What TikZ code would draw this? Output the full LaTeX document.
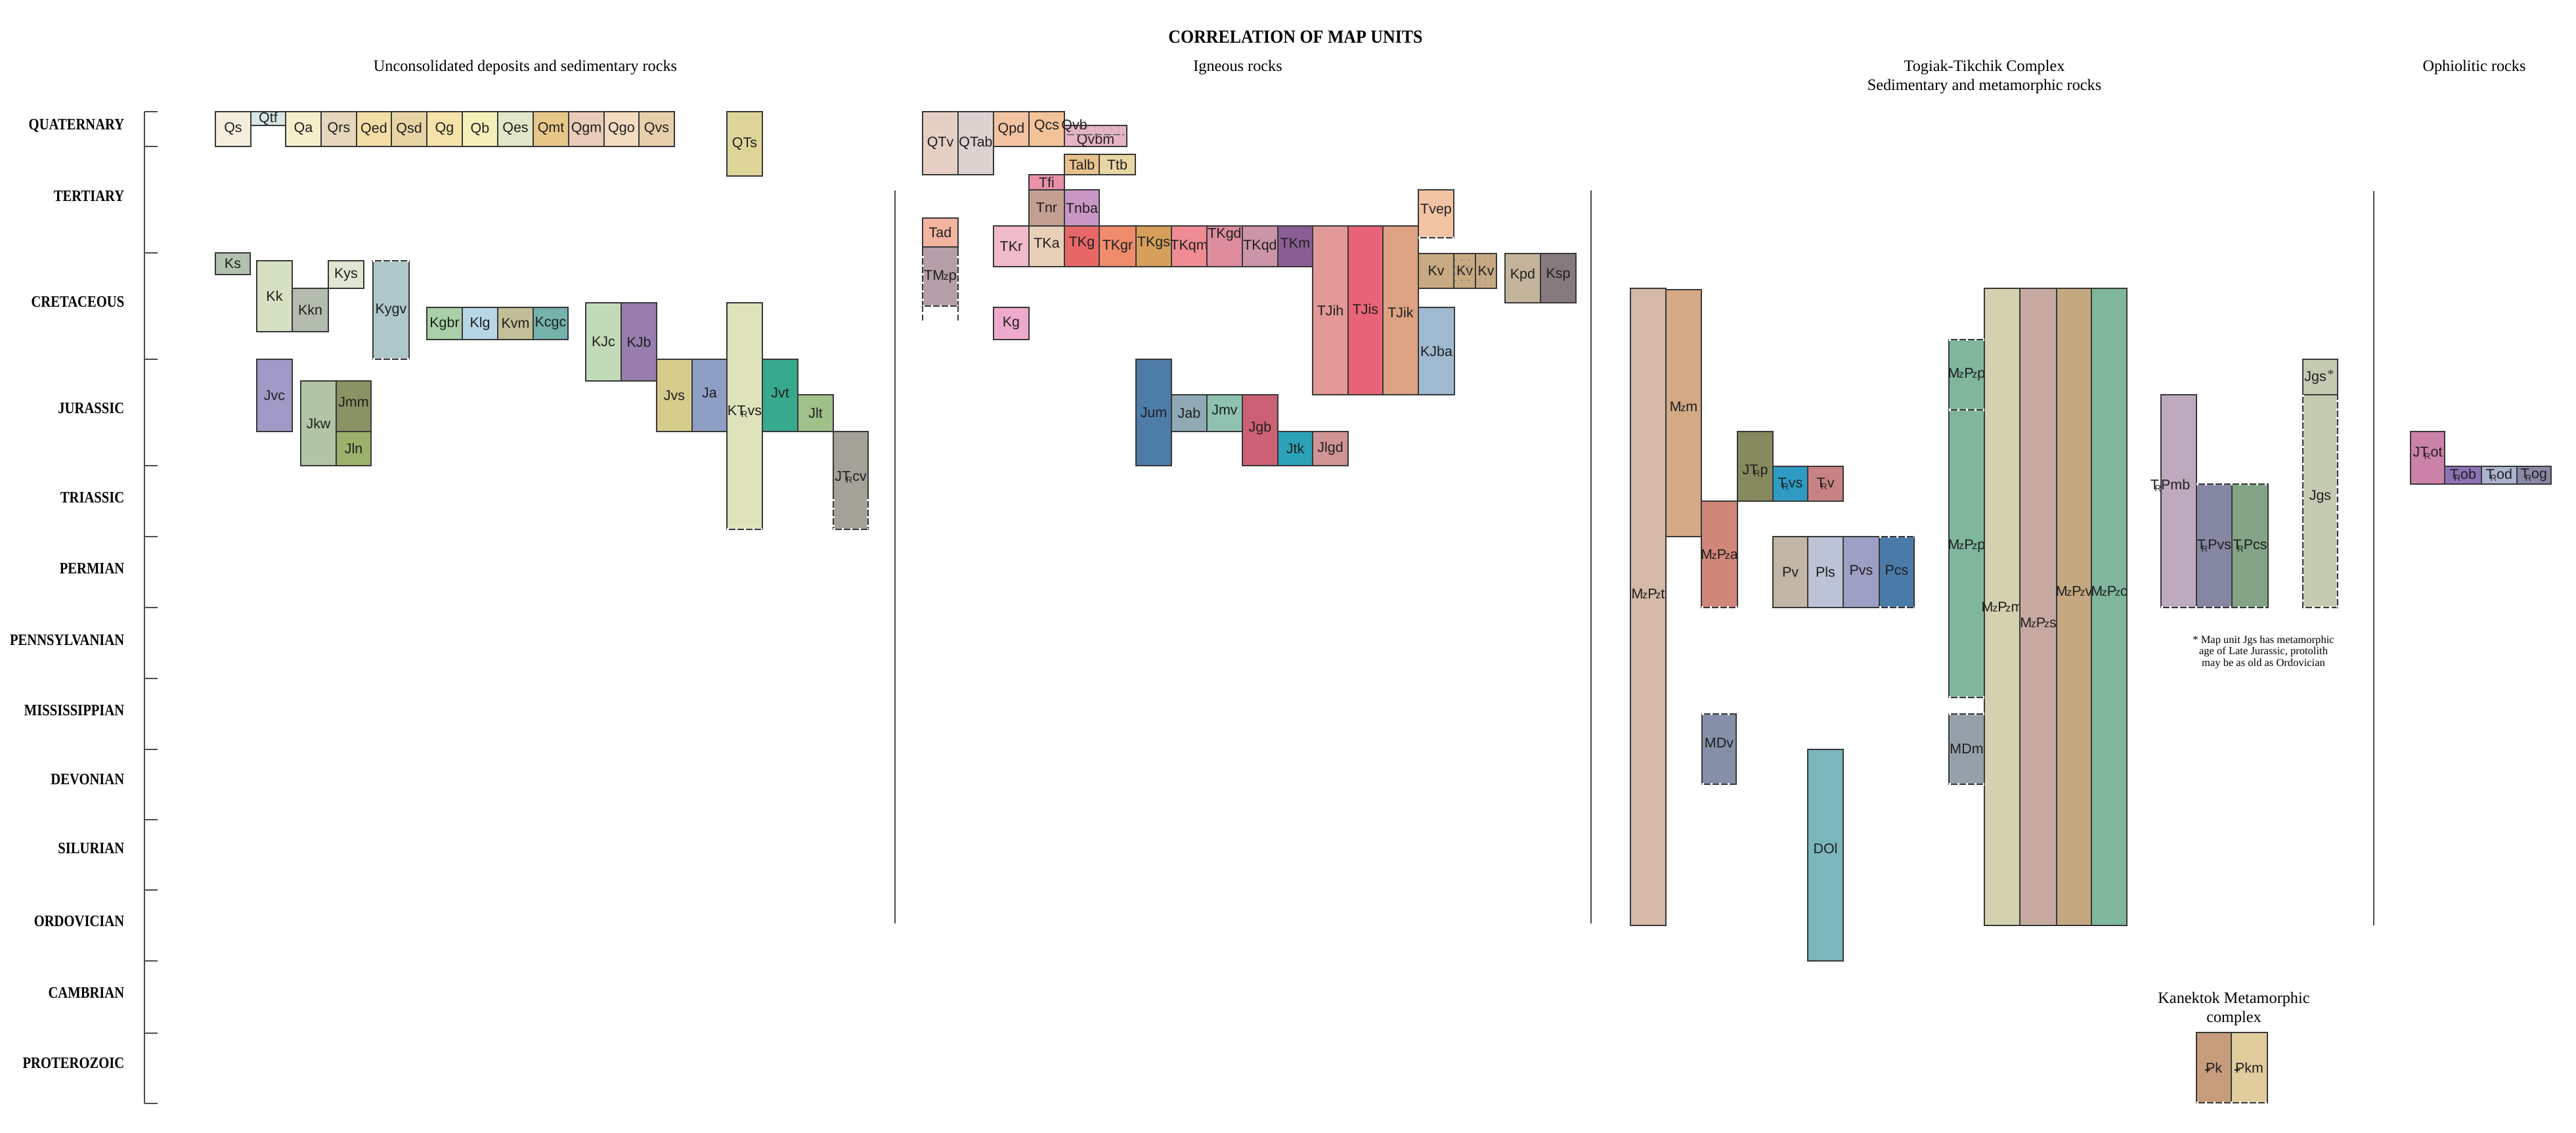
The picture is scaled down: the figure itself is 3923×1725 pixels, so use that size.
\documentclass[tikz,border=0pt]{standalone}
\usepackage{fontspec}
\setmainfont{Liberation Serif}
\setsansfont{Liberation Sans}
\usepackage{graphicx}
\usetikzlibrary{calc,patterns}

% age symbols
\newcommand{\Tr}{T\kern-.3em\raisebox{-.3ex}{\scalebox{.62}{R}}}
\newcommand{\Mz}{M\kern-.06em\scalebox{.75}{z}}
\newcommand{\Pz}{P\kern-.1em\scalebox{.75}{z}}
\newcommand{\Pe}{\makebox[0pt][l]{\kern-.06em\rule[.3ex]{.4em}{.07em}}P}

% one map unit: [label options]{name}{corner}{corner}{HTML colour}{label}
\newcommand{\mapunit}[6][]{%
  \definecolor{unitfill}{HTML}{#5}%
  \draw[unitbox, fill=unitfill] (#3) rectangle (#4);
  \node[unitlbl, #1] (#2) at ($(#3)!.5!(#4)$) {#6};}

\begin{document}
\begin{tikzpicture}[x=0.01cm, y=-0.01cm,
  unitbox/.style={draw=black!78, line width=0.55pt},
  unitlbl/.style={font=\sffamily\fontsize{6.1}{6.5}\selectfont, text=black!88, inner sep=0pt},
  gap/.style={white, line width=0.9pt, dash pattern=on 0.9pt off 2.8pt},
  axis/.style={draw=black!70, line width=0.6pt},
  period/.style={font=\bfseries\fontsize{6.9}{7}\selectfont, anchor=east, inner sep=0pt},
  heading/.style={font=\fontsize{6.9}{8.1}\selectfont, align=center, inner sep=0pt}
]
\useasboundingbox (0,0) rectangle (3923,1725);

% headings
\node[heading, font=\bfseries\fontsize{8}{9}\selectfont] (title) at (1973,56)
  {\scalebox{.92}[1]{CORRELATION OF MAP UNITS}};
\node[heading] (hsed) at (800,103) {Unconsolidated deposits and sedimentary rocks};
\node[heading] (hign) at (1885,103) {Igneous rocks};
\node[heading] (htog) at (3022,117) {Togiak-Tikchik Complex\\Sedimentary and metamorphic rocks};
\node[heading] (hoph) at (3768,103) {Ophiolitic rocks};

% time scale
\draw[axis] (220,170) -- (220,1680);
\foreach \t in {170,223,385,547,709,817,925,1033,1141,1248,1355,1463,1573,1680}
  \draw[axis] (220,\t) -- (240,\t);
\foreach \name/\y [count=\i] in {QUATERNARY/191, TERTIARY/298, CRETACEOUS/460,
    JURASSIC/622, TRIASSIC/758, PERMIAN/865, PENNSYLVANIAN/975, MISSISSIPPIAN/1082,
    DEVONIAN/1187, SILURIAN/1292, ORDOVICIAN/1403, CAMBRIAN/1512, PROTEROZOIC/1619}
  \node[period] (per\i) at (190,\y) {\scalebox{.85}[1]{\name}};

% column dividers
\draw[axis] (1363,290) -- (1363,1406);
\draw[axis] (2423,290) -- (2423,1406);
\draw[axis] (3615,291) -- (3615,1409);

% unconsolidated deposits and sedimentary rocks
\mapunit{qs}{328,170}{382,223}{F3EFDC}{Qs}
\mapunit{qtf}{382,170}{435,191}{D8E6E6}{Qtf}
\mapunit{qa}{435,170}{489,223}{F5EECB}{Qa}
\mapunit{qrs}{489,170}{543,223}{E6D6BC}{Qrs}
\mapunit{qed}{543,170}{596,223}{F3DFA5}{Qed}
\mapunit{qsd}{596,170}{650,223}{E8D4A4}{Qsd}
\mapunit{qg}{650,170}{704,223}{F5E2A8}{Qg}
\mapunit{qb}{704,170}{758,223}{F5EFBA}{Qb}
\mapunit{qes}{758,170}{812,223}{E3E7C9}{Qes}
\mapunit{qmt}{812,170}{866,223}{E8C888}{Qmt}
\mapunit{qgm}{866,170}{920,223}{E8CBB8}{Qgm}
\mapunit{qgo}{920,170}{973,223}{F3DCC0}{Qgo}
\mapunit{qvs}{973,170}{1027,223}{E8CFAC}{Qvs}
\mapunit{qts}{1107,170}{1161,268}{DED598}{QTs}
\mapunit{ks}{328,385}{381,418}{B1C2AE}{Ks}
\mapunit{kk}{391,397}{445,505}{D6E1C4}{Kk}
\mapunit{kkn}{445,439}{500,505}{B3BCAF}{Kkn}
\mapunit{kys}{500,397}{554,439}{DFE6D2}{Kys}
\mapunit{kygv}{568,397}{623,547}{AEC7C8}{Kygv}
\mapunit{kgbr}{650,468}{704,517}{A9D0A8}{Kgbr}
\mapunit{klg}{704,468}{758,517}{B7D6E6}{Klg}
\mapunit{kvm}{758,468}{812,517}{C2BE97}{Kvm}
\mapunit{kcgc}{812,468}{865,517}{74B2AB}{Kcgc}
\mapunit{kjc}{892,461}{946,580}{C2DAB8}{KJc}
\mapunit{kjb}{946,461}{1000,580}{977EAE}{KJb}
\mapunit{jvs}{1000,547}{1054,657}{D6CC8B}{Jvs}
\mapunit[yshift=0.04cm]{ja}{1054,547}{1107,657}{8F9EC4}{Ja}
\mapunit[yshift=0.07cm]{ktrvs}{1107,461}{1161,806}{DFE3BB}{K\Tr vs}
\mapunit[yshift=0.04cm]{jvt}{1161,547}{1215,657}{37A98D}{Jvt}
\mapunit{jlt}{1215,601}{1269,657}{A0C18A}{Jlt}
\mapunit[yshift=0.05cm]{jtrcv}{1269,657}{1322,806}{A4A199}{J\Tr cv}
\mapunit{jvc}{391,547}{445,657}{A199C6}{Jvc}
\mapunit{jkw}{458,580}{512,709}{B1C4A5}{Jkw}
\mapunit[yshift=0.06cm]{jmm}{512,580}{565,657}{8A9364}{Jmm}
\mapunit{jln}{512,657}{565,709}{9BB16C}{Jln}

% igneous rocks
\mapunit{qtv}{1405,170}{1459,266}{E6D0C5}{QTv}
\mapunit{qtab}{1459,170}{1513,266}{DCD2CF}{QTab}
\mapunit{qpd}{1513,170}{1567,223}{F3C3A2}{Qpd}
\mapunit[yshift=0.04cm]{qcs}{1567,170}{1621,223}{F3C398}{Qcs}
\mapunit[yshift=-0.07cm]{qvbm}{1621,191}{1716,223}{E6B5C5}{Qvbm}
\foreach \x in {1632,1644,...,1710}
  \draw[black!40, densely dotted] (\x,194) -- (\x,202);
\draw[black!55, dash pattern=on 3pt off 1pt] (1625,205) -- (1712,205);
\node[unitlbl] (qvb) at (1636,192) {Qvb};
\mapunit{talb}{1621,235}{1674,266}{E8C28E}{Talb}
\mapunit{ttb}{1674,235}{1729,266}{E8D6A3}{Ttb}
\mapunit{tfi}{1567,266}{1621,289}{E891A8}{Tfi}
\mapunit{tnr}{1567,289}{1621,344}{C4A093}{Tnr}
\mapunit{tnba}{1621,289}{1674,344}{C997C4}{Tnba}
\mapunit{tkr}{1513,344}{1567,406}{F0BAC8}{TKr}
\mapunit[yshift=0.05cm]{tka}{1567,344}{1621,406}{E8D0B8}{TKa}
\mapunit[yshift=0.05cm]{tkg}{1621,344}{1674,406}{E86868}{TKg}
\mapunit{tkgr}{1674,344}{1730,406}{EF8C6C}{TKgr}
\mapunit[yshift=0.05cm]{tkgs}{1730,344}{1784,406}{D6A05C}{TKgs}
\mapunit{tkqm}{1784,344}{1838,406}{EF8C94}{TKqm}
\mapunit[yshift=0.18cm]{tkgd}{1838,344}{1892,406}{DC8C9C}{TKgd}
\mapunit{tkqd}{1892,344}{1946,406}{CC94A8}{TKqd}
\mapunit[yshift=0.05cm]{tkm}{1946,344}{1999,406}{8A5E94}{TKm}
\mapunit{tjih}{1999,344}{2053,601}{E39898}{TJih}
\mapunit[yshift=0.02cm]{tjis}{2053,344}{2106,601}{E86478}{TJis}
\mapunit[yshift=-0.03cm]{tjik}{2106,344}{2160,601}{DCA282}{TJik}
\mapunit[yshift=0.05cm]{tvep}{2160,289}{2214,362}{F3C4A4}{Tvep}
\mapunit{kva}{2160,386}{2214,439}{C8AA82}{Kv}
\mapunit{kvb}{2214,386}{2247,439}{C8AA82}{Kv}
\mapunit{kvc}{2247,386}{2279,439}{C8AA82}{Kv}
\fill[pattern=dots, pattern color=black!45] (2215,388) rectangle (2246,437);
\foreach \x in {2254,2262,2270}
  \draw[black!40, densely dotted] (\x,389) -- (\x,436);
\mapunit[yshift=0.05cm]{kpd}{2292,386}{2346,461}{C4B49C}{Kpd}
\mapunit[yshift=0.05cm]{ksp}{2346,386}{2400,461}{877A7E}{Ksp}
\mapunit{kjba}{2160,468}{2215,601}{9FBAD0}{KJba}
\mapunit{tad}{1405,332}{1459,376}{F3B4A0}{Tad}
\mapunit{tmzp}{1405,376}{1459,466}{B49EA8}{T\Mz p}
\mapunit{kg}{1513,468}{1567,517}{EEAACC}{Kg}
\mapunit{jum}{1730,547}{1784,709}{4E7CA8}{Jum}
\mapunit{jab}{1784,601}{1838,657}{8FAAB4}{Jab}
\mapunit[yshift=0.05cm]{jmv}{1838,601}{1892,657}{8EC1B0}{Jmv}
\mapunit[yshift=0.03cm]{jgb}{1892,601}{1946,709}{CC6074}{Jgb}
\mapunit{jtk}{1946,657}{1999,709}{2BA2B8}{Jtk}
\mapunit{jlgd}{1999,657}{2053,709}{D09494}{Jlgd}

% Togiak-Tikchik Complex
\mapunit[yshift=0.2cm]{mzpzt}{2483,439}{2537,1409}{D4B9A6}{\Mz\Pz t}
\mapunit[yshift=0.1cm]{mzm}{2537,441}{2591,817}{D3A986}{\Mz m}
\mapunit{mzpza}{2591,763}{2646,925}{D0877A}{\Mz\Pz a}
\mapunit[yshift=-0.07cm]{jtrp}{2646,657}{2700,763}{87895E}{J\Tr p}
\mapunit{trvs}{2700,710}{2753,763}{2E9BC4}{\Tr vs}
\mapunit{trv}{2753,710}{2807,763}{C98283}{\Tr v}
\mapunit{pv}{2700,817}{2753,925}{C3B6A6}{Pv}
\mapunit{pls}{2753,817}{2807,925}{BCC3D6}{Pls}
\mapunit[yshift=0.03cm]{pvs}{2807,817}{2862,925}{9E9FC4}{Pvs}
\mapunit[yshift=0.03cm]{pcs}{2862,817}{2915,925}{4A7AA8}{Pcs}
\mapunit[yshift=0.09cm]{mdv}{2592,1087}{2644,1194}{8590A8}{MDv}
\mapunit[yshift=0.1cm]{dol}{2753,1141}{2807,1463}{7BB6BC}{DOl}
\mapunit{mzpzpa}{2968,517}{3022,624}{7FB69C}{\Mz\Pz p}
\mapunit[yshift=0.12cm]{mzpzpb}{2968,624}{3022,1062}{7FB69C}{\Mz\Pz p}
\mapunit{mzpzm}{3022,439}{3076,1409}{D4D1B0}{\Mz\Pz m}
\mapunit[yshift=-0.24cm]{mzpzs}{3076,439}{3132,1409}{C6AAA2}{\Mz\Pz s}
\mapunit[yshift=0.24cm]{mzpzv}{3132,439}{3185,1409}{C4A880}{\Mz\Pz v}
\mapunit[yshift=0.24cm]{mzpzc}{3185,439}{3239,1409}{7FB69C}{\Mz\Pz c}
\mapunit{mdm}{2968,1087}{3022,1194}{95A0AA}{MDm}
\mapunit[yshift=0.24cm, xshift=-0.13cm]{trpmb}{3291,601}{3345,925}{BEAABE}{\Tr Pmb}
\mapunit{trpvs}{3345,737}{3399,925}{8587A2}{\Tr Pvs}
\mapunit{trpcs}{3399,737}{3454,925}{83A486}{\Tr Pcs}
\mapunit{jgsa}{3507,547}{3560,601}{C4CBB0}{Jgs$^*$}
\mapunit[yshift=0.07cm]{jgs}{3507,601}{3560,925}{C4CBB0}{Jgs}
\node[heading, font=\fontsize{4.7}{5.1}\selectfont] (note) at (3447,993)
  {* Map unit Jgs has metamorphic\\age of Late Jurassic, protolith\\may be as old as Ordovician};
\node[heading] (hkan) at (3402,1536) {Kanektok Metamorphic\\complex};
\mapunit{pk}{3345,1572}{3398,1679}{C69C7C}{\Pe k}
\mapunit{pkm}{3398,1572}{3453,1679}{E1CC9E}{\Pe km}

% ophiolitic rocks
\mapunit[yshift=0.07cm]{jtrot}{3671,657}{3723,737}{CC82A8}{J\Tr ot}
\mapunit{trob}{3723,710}{3779,737}{8E72B4}{\Tr ob}
\mapunit{trod}{3779,710}{3833,737}{AAB4D0}{\Tr od}
\mapunit{trog}{3833,710}{3885,737}{8A88A6}{\Tr og}

% uncertain boundaries
\draw[gap] (568,397) -- (623,397);
\draw[gap] (568,547) -- (623,547);
\draw[gap] (1107,806) -- (1161,806);
\draw[gap] (1269,806) -- (1322,806);
\draw[gap] (1269,760) -- (1269,806);
\draw[gap] (1322,760) -- (1322,806);
\draw[gap] (1405,390) -- (1405,466);
\draw[gap] (1459,390) -- (1459,466);
\draw[gap] (1405,466) -- (1459,466);
\draw[unitbox, dash pattern=on 2.6pt off 1pt] (1405,466) -- (1405,490);
\draw[unitbox, dash pattern=on 2.6pt off 1pt] (1459,466) -- (1459,490);
\draw[gap] (2160,362) -- (2214,362);
\draw[gap] (2591,925) -- (2646,925);
\draw[gap] (2862,817) -- (2915,817);
\draw[gap] (2862,925) -- (2915,925);
\draw[gap] (2592,1087) -- (2644,1087);
\draw[gap] (2592,1194) -- (2644,1194);
\draw[gap] (2968,517) -- (3022,517);
\draw[gap] (2968,624) -- (3022,624);
\draw[gap] (2968,1062) -- (3022,1062);
\draw[gap] (2968,1087) -- (3022,1087);
\draw[gap] (2968,1194) -- (3022,1194);
\draw[gap] (3345,737) -- (3454,737);
\draw[gap] (3291,925) -- (3454,925);
\draw[gap] (3507,601) -- (3507,925) -- (3560,925) -- (3560,601);
\draw[gap] (3345,1679) -- (3453,1679);
\end{tikzpicture}
\end{document}
